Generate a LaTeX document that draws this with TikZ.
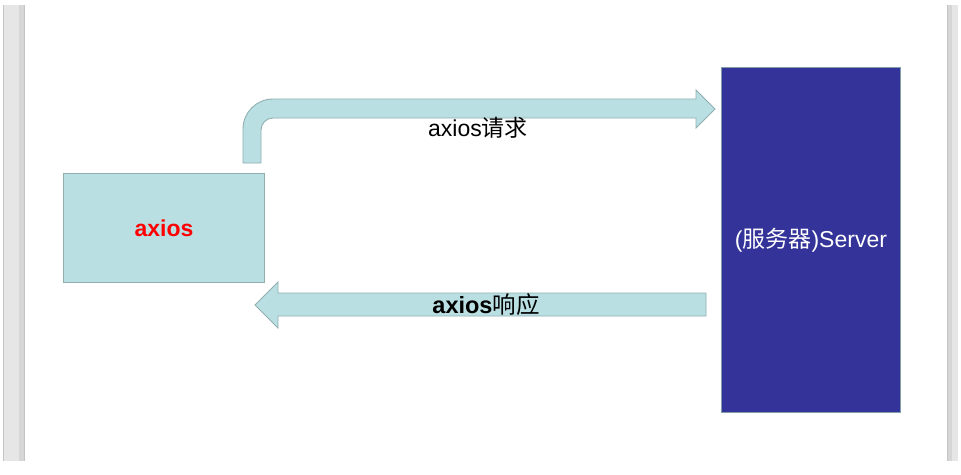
\documentclass[tikz,border=0pt]{standalone}
\usepackage{fontspec}
\setmainfont{Liberation Sans}
\newfontfamily\cjk{Noto Sans CJK SC}
\definecolor{boxblue}{HTML}{B9DFE3}
\definecolor{boxedge}{HTML}{8FAFB1}
\definecolor{server}{HTML}{333399}
\definecolor{serveredge}{HTML}{7F9FA8}
\definecolor{barfill}{HTML}{E6E6E6}
\definecolor{baredge}{HTML}{C4C4C4}
\definecolor{barshade}{HTML}{D6D6D6}
\tikzset{
  shapefill/.style={fill=boxblue, draw=boxedge, line width=0.9pt, line join=miter},
  lbl/.style={font=\fontsize{23}{27}\selectfont, inner sep=0pt},
}
\begin{document}
\begin{tikzpicture}[x=1pt,y=-1pt]
\useasboundingbox (0,0) rectangle (961,474);
\fill[white] (0,0) rectangle (961,474);
% side bars
\fill[barfill] (3,5) rectangle (25,461);
\fill[barshade] (19,5) rectangle (25,461);
\draw[baredge, line width=0.8pt] (3.5,5) -- (3.5,461);
\draw[baredge, line width=0.8pt] (24.5,5) -- (24.5,461);
\fill[barfill] (947,5) rectangle (958,461);
\fill[barshade] (947,5) rectangle (952,461);
\draw[baredge, line width=0.8pt] (947.5,5) -- (947.5,461);
% boxes
\node[shapefill, minimum width=201pt, minimum height=109pt, inner sep=0pt, anchor=north west,
  font=\fontsize{23}{27}\selectfont\bfseries, text=red] (client) at (63,173) {axios};
\node[fill=server, draw=serveredge, line width=0.9pt, minimum width=179pt, minimum height=345pt,
  inner sep=0pt, anchor=north west, text=white, font=\fontsize{23}{27}\selectfont] (srv) at (721,67)
  {(\cjk 服务器\normalfont)Server};
% request arrow (bent)
\coordinate (reqstart) at (243,163);
\coordinate (reqtip) at (715,109);
\draw[shapefill] (reqstart) -- (243,129) .. controls (243,112.4) and (256.4,99) .. (273,99)
  -- (696,99) -- (696,90) -- (reqtip) -- (696,128) -- (696,118) -- (273,118)
  .. controls (266.4,118) and (261,123.4) .. (261,130) -- (261,163) -- cycle;
\node[lbl] (reqlbl) at (478,128) {axios{\cjk 请求}};
% response arrow
\coordinate (resptip) at (255,305);
\draw[shapefill] (706,293) -- (278,293) -- (278,282) -- (resptip) -- (278,328) -- (278,316)
  -- (706,316) -- cycle;
\node[lbl, font=\fontsize{23.5}{27}\selectfont] (resplbl) at (486,305) {{\bfseries axios}{\cjk 响应}};
\end{tikzpicture}
\end{document}
